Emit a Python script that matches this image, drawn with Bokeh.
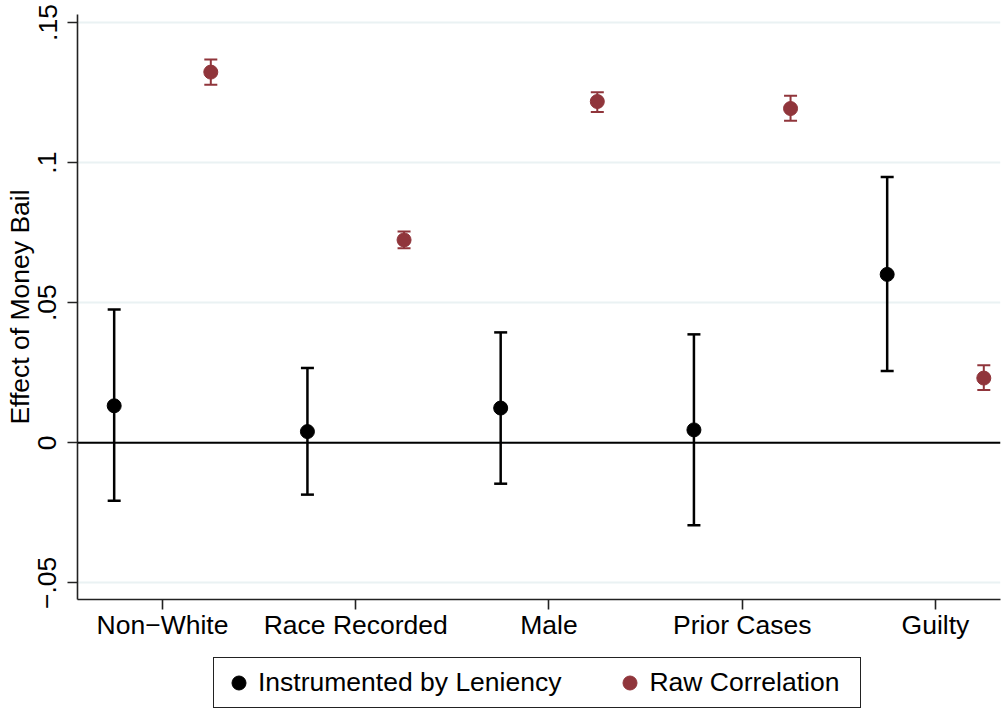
from bokeh.plotting import figure
from bokeh.layouts import column
from bokeh.models import (Range1d, FixedTicker, Whisker, TeeHead, ColumnDataSource,
                          Span, Legend, LegendItem)
from bokeh.embed import file_html
from bokeh.resources import INLINE

categories = ["Non\u2212White", "Race Recorded", "Male", "Prior Cases", "Guilty"]
positions = [1, 2, 3, 4, 5]

iv_est = [0.0132, 0.0040, 0.0124, 0.0046, 0.0601]
iv_lo = [-0.0207, -0.0185, -0.0146, -0.0294, 0.0256]
iv_hi = [0.0476, 0.0267, 0.0394, 0.0387, 0.0949]

raw_est = [0.1323, 0.0724, 0.1218, 0.1193, 0.0231]
raw_lo = [0.1278, 0.0694, 0.1181, 0.1149, 0.0188]
raw_hi = [0.1368, 0.0754, 0.1251, 0.1239, 0.0277]

y_ticks = [-0.05, 0, 0.05, 0.1, 0.15]
y_tick_labels = ["\u2212.05", "0", ".05", ".1", ".15"]

series_labels = ["Instrumented by Leniency", "Raw Correlation"]

FONT = "Liberation Sans"
FS = "26.5px"
RED = "#90353b"
offset = 0.25

iv_src = ColumnDataSource(dict(x=[p_ - offset for p_ in positions], y=iv_est, lo=iv_lo, hi=iv_hi))
raw_src = ColumnDataSource(dict(x=[p_ + offset for p_ in positions], y=raw_est, lo=raw_lo, hi=raw_hi))

p = figure(frame_width=923, frame_height=585,
           x_range=Range1d(0.5602, 5.3364), y_range=Range1d(-0.05593, 0.15286),
           output_backend="svg", toolbar_location=None,
           min_border_left=77, min_border_right=3, min_border_top=14, min_border_bottom=45)
p.outline_line_color = None
p.background_fill_color = "white"
p.border_fill_color = "white"

# grid
p.xgrid.visible = False
p.ygrid.ticker = FixedTicker(ticks=y_ticks)
p.ygrid.grid_line_color = "#eaf2f3"
p.ygrid.grid_line_width = 2

# axes
p.yaxis.ticker = FixedTicker(ticks=y_ticks)
p.yaxis.major_label_overrides = {t: l for t, l in zip(y_ticks, y_tick_labels)}
p.yaxis.major_label_orientation = "vertical"
p.yaxis.axis_label = "Effect of Money Bail"
p.yaxis.axis_label_text_font_style = "normal"
p.yaxis.axis_label_standoff = 1
p.yaxis.major_label_standoff = 11

p.xaxis.ticker = FixedTicker(ticks=positions)
p.xaxis.major_label_overrides = {pos: c for pos, c in zip(positions, categories)}
p.xaxis.major_label_standoff = 0

for ax in (p.xaxis[0], p.yaxis[0]):
    ax.axis_line_color = "#222222"
    ax.axis_line_width = 1.6
    ax.major_tick_line_color = "#222222"
    ax.major_tick_line_width = 1.6
    ax.major_tick_in = 0
    ax.major_tick_out = 10
    ax.minor_tick_line_color = None
    ax.major_label_text_font = FONT
    ax.major_label_text_font_size = FS
    ax.major_label_text_color = "black"
    ax.axis_label_text_font = FONT
    ax.axis_label_text_font_size = FS
    ax.axis_label_text_color = "black"

p.add_layout(Span(location=0, dimension="width", line_color="black", line_width=2))

# error bars
p.add_layout(Whisker(source=iv_src, base="x", lower="lo", upper="hi",
                     line_color="black", line_width=2.5,
                     lower_head=TeeHead(size=13, line_color="black", line_width=2.5),
                     upper_head=TeeHead(size=13, line_color="black", line_width=2.5)))
p.add_layout(Whisker(source=raw_src, base="x", lower="lo", upper="hi",
                     line_color=RED, line_width=2,
                     lower_head=TeeHead(size=13, line_color=RED, line_width=2),
                     upper_head=TeeHead(size=13, line_color=RED, line_width=2)))

p.scatter("x", "y", source=iv_src, size=14, color="black")
p.scatter("x", "y", source=raw_src, size=14, color=RED)

# legend strip below the chart (same sources; its ranges keep the points out of view)
p2 = figure(frame_width=1003, frame_height=68,
            x_range=Range1d(0.5602, 5.3364), y_range=Range1d(10, 11),
            output_backend="svg", toolbar_location=None, min_border=0)
p2.outline_line_color = None
p2.axis.visible = False
p2.grid.visible = False
l_iv = p2.scatter("x", "y", source=iv_src, size=14, color="black")
l_raw = p2.scatter("x", "y", source=raw_src, size=14, color=RED)

legend = Legend(items=[LegendItem(label=series_labels[0], renderers=[l_iv]),
                       LegendItem(label=series_labels[1], renderers=[l_raw])],
                orientation="horizontal", location=(213, 4),
                label_text_font=FONT, label_text_font_size=FS,
                label_text_color="black",
                border_line_color="#222222", border_line_width=1.5, border_line_alpha=1.0,
                padding=7, spacing=51, glyph_width=35, glyph_height=35,
                label_standoff=2, label_width=204, margin=0)
p2.add_layout(legend, "center")

open("out.html", "w").write(file_html(column(p, p2, spacing=0), INLINE))
